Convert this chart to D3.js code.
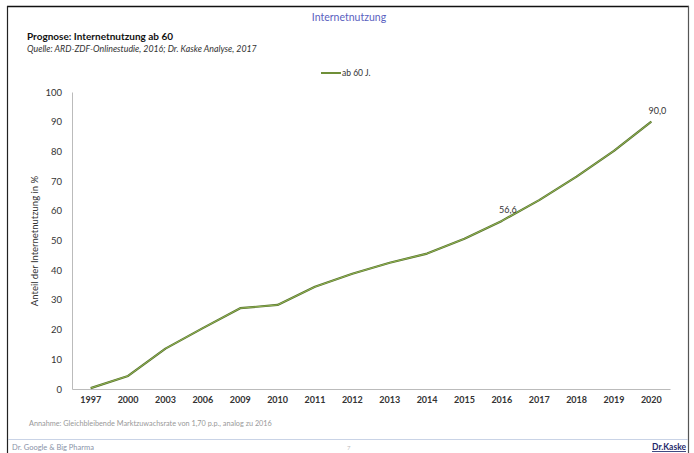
<!DOCTYPE html>
<html><head><meta charset="utf-8">
<script src="https://cdn.jsdelivr.net/npm/d3@7/dist/d3.min.js"></script>
<style>body{margin:0;background:#fff}svg{display:block;font-family:Lato,"Open Sans",sans-serif}</style>
</head><body><svg id="c" width="694" height="453"></svg>
<script>
const years = ["1997","2000","2003","2006","2009","2010","2011","2012","2013","2014","2015","2016","2017","2018","2019","2020"];
const values = [0.3,4.4,13.6,20.5,27.2,28.3,34.4,38.8,42.5,45.6,50.6,56.6,63.6,71.5,80.2,90.0];
const yTicks = [0,10,20,30,40,50,60,70,80,90,100];
const labeled = {"2016":"56,6","2020":"90,0"};

const svg = d3.select("#c");
const m = {l:72, r:670, t:92, b:389};
const x = d3.scaleBand().domain(years).range([m.l, m.r]);
const y = d3.scaleLinear().domain([0,100]).range([m.b, m.t]);
const cx = d => x(d) + x.bandwidth()/2;

// frame
svg.append("line").attr("x1",7).attr("x2",689).attr("y1",6.5).attr("y2",6.5).attr("stroke","#111").attr("stroke-width",1.5);
svg.append("line").attr("x1",7.5).attr("x2",7.5).attr("y1",6).attr("y2",453).attr("stroke","#222").attr("stroke-width",1.2);
svg.append("line").attr("x1",688.5).attr("x2",688.5).attr("y1",6).attr("y2",453).attr("stroke","#555").attr("stroke-width",1.2);
svg.append("line").attr("x1",8).attr("x2",688).attr("y1",439.5).attr("y2",439.5).attr("stroke","#c9d3e6").attr("stroke-width",1);

// titles
svg.append("text").attr("x",349).attr("y",21).attr("text-anchor","middle").attr("font-size",10.5).attr("fill","#5a5fc0").text("Internetnutzung");
svg.append("text").attr("x",27).attr("y",40).attr("font-size",10).attr("font-weight","bold").attr("fill","#111").text("Prognose: Internetnutzung ab 60");
svg.append("text").attr("x",27).attr("y",52).attr("font-size",8.8).attr("font-style","italic").attr("fill","#333").text("Quelle: ARD-ZDF-Onlinestudie, 2016; Dr. Kaske Analyse, 2017");

// legend
svg.append("line").attr("x1",321).attr("x2",341).attr("y1",73).attr("y2",73).attr("stroke","#6f8f38").attr("stroke-width",2);
svg.append("text").attr("x",342).attr("y",76).attr("font-size",8.5).attr("fill","#333").text("ab 60 J.");

// axes
const ya = svg.append("g").attr("transform",`translate(${m.l},0)`).call(d3.axisLeft(y).tickValues(yTicks).tickSize(0).tickPadding(10));
ya.select(".domain").attr("stroke","#bbb");
ya.selectAll("text").attr("font-size",9.5).attr("fill","#333").attr("font-family","Lato,sans-serif");
const xa = svg.append("g").attr("transform",`translate(0,${m.b})`).call(d3.axisBottom(x).tickSize(0).tickPadding(8));
xa.select(".domain").attr("stroke","#bbb");
xa.selectAll("text").attr("font-size",9).attr("font-weight","bold").attr("fill","#333").attr("font-family","Lato,sans-serif");

svg.append("text").attr("transform","translate(38,241) rotate(-90)").attr("text-anchor","middle").attr("font-size",9.5).attr("fill","#333").text("Anteil der Internetnutzung in %");

// line
const line = d3.line().x((d,i)=>cx(years[i])).y(d=>y(d));
svg.append("path").datum(values).attr("d",line).attr("fill","none").attr("stroke","#55702e").attr("stroke-width",2.2).attr("stroke-linejoin","round");
svg.append("path").datum(values).attr("d",line).attr("fill","none").attr("stroke","#93b552").attr("stroke-width",1).attr("stroke-linejoin","round");

// data labels
years.forEach((yr,i)=>{ if(labeled[yr]) svg.append("text").attr("x",cx(yr)+6).attr("y",y(values[i])-8).attr("text-anchor","middle").attr("font-size",9).attr("fill","#333").text(labeled[yr]); });

// footnote and footer
svg.append("text").attr("x",29).attr("y",426).attr("font-size",7.3).attr("fill","#999").text("Annahme: Gleichbleibende Marktzuwachsrate von 1,70 p.p., analog zu 2016");
svg.append("text").attr("x",12).attr("y",450).attr("font-size",7.5).attr("fill","#8a93a8").text("Dr. Google & Big Pharma");
svg.append("text").attr("x",347).attr("y",450).attr("font-size",6).attr("fill","#bbb").text("7");
svg.append("text").attr("x",686).attr("y",450).attr("text-anchor","end").attr("font-size",8.5).attr("font-weight","bold").attr("fill","#1f2a6b").attr("text-decoration","underline").text("Dr.Kaske");
</script></body></html>
